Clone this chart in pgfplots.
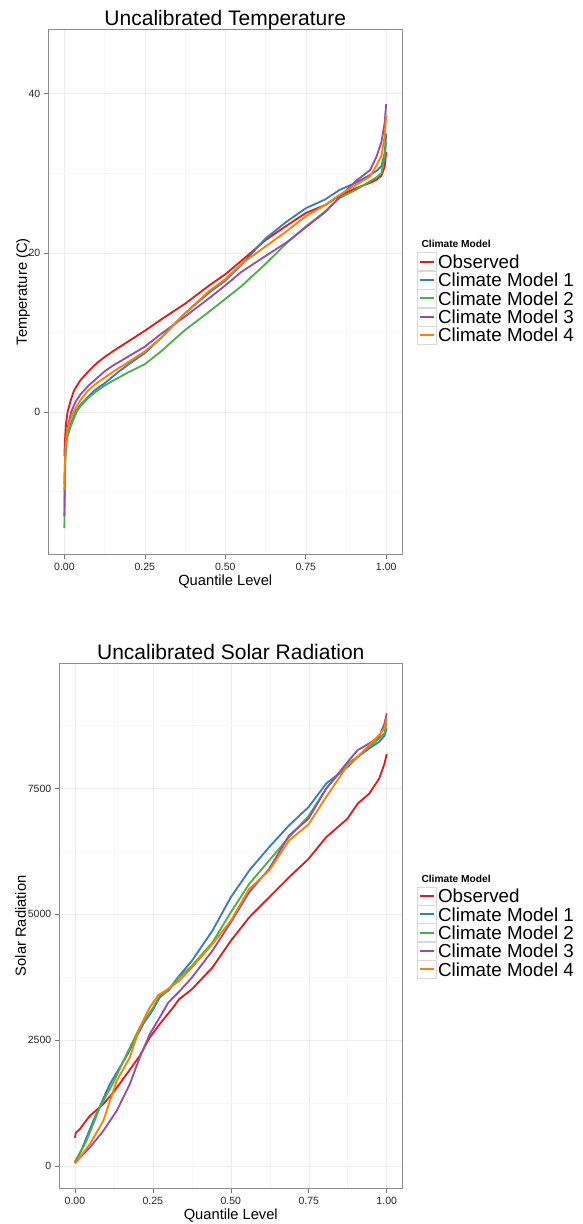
\documentclass[border=0pt]{standalone}
\usepackage{fontspec}
\setmainfont{Liberation Sans}
\usepackage{pgfplots}
\pgfplotsset{compat=1.18}
\definecolor{cRed}{HTML}{E41A1C}
\definecolor{cBlue}{HTML}{377EB8}
\definecolor{cGreen}{HTML}{4DAF4A}
\definecolor{cPurple}{HTML}{984EA3}
\definecolor{cOrange}{HTML}{FF7F00}
\pgfplotsset{
  panel/.style={
    scale only axis, height=525pt, anchor=south west, clip=false,
    xmin=-0.05, xmax=1.05,
    xtick={0,0.25,0.5,0.75,1},
    xticklabels={0.00,0.25,0.50,0.75,1.00},
    minor xtick={0.125,0.375,0.625,0.875},
    grid=both,
    major grid style={draw=gray!14, line width=0.5pt},
    minor grid style={draw=gray!6, line width=0.5pt},
    tick align=outside, tick pos=left,
    major tick length=4.5pt, minor tick length=0pt,
    tick style={draw=black!55, line width=0.6pt},
    axis line style={draw=black!45, line width=0.8pt},
    /pgf/number format/assume math mode=true,
    every tick label/.append style={font=\fontsize{10.5}{12}\selectfont, text=black!85},
    xticklabel style={anchor=base, yshift=-12pt},
    title style={at={(axis description cs:0.5,1)}, anchor=base, yshift=-2.5pt, font=\fontsize{21}{24}\selectfont},
    xlabel style={at={(axis description cs:0.5,0)}, anchor=base, yshift=-30.8pt, font=\fontsize{14.7}{16}\selectfont},
    ylabel style={anchor=base, font=\fontsize{14.7}{16}\selectfont},
    every axis plot/.append style={line width=1.85pt, line join=round, mark=none},
    legend cell align=left,
    legend image code/.code={
      \draw[draw=black!15, fill=white, line width=0.4pt] (0pt,-9pt) rectangle (18.4pt,9pt);
      \draw[##1, line width=2pt] (2.2pt,0pt) -- (16.2pt,0pt);
    },
    legend style={draw=none, fill=none, inner sep=0pt, outer sep=0pt, row sep=0pt, column sep=2pt,
      anchor=north west, font=\fontsize{18.8}{18.4}\selectfont,
      nodes={inner sep=0pt, text height=16pt, text depth=2.4pt}},
  }
}
\begin{document}
\begin{tikzpicture}
\useasboundingbox (0,0) rectangle (582pt,1224pt);
% ---------------- Temperature ----------------
\begin{axis}[panel, at={(48.3pt,669.7pt)}, width=354pt,
  ymin=-17.9, ymax=48.1,
  ytick={0,20,40}, minor ytick={-10,10,30},
  title={Uncalibrated Temperature},
  xlabel={Quantile Level}, ylabel={Temperature (C)},
  ylabel style={at={(axis description cs:-0.0602,0.5)}},
  legend style={at={(1.0424,0.5752)}}]
\addplot[cRed] coordinates {(0,-5.5) (0.002,-3.5) (0.005,-1.5) (0.01,0) (0.02,1.5) (0.03,2.7) (0.05,4.0) (0.075,5.1) (0.1,6.1) (0.125,6.9) (0.15,7.6) (0.2,8.9) (0.25,10.2) (0.3,11.6) (0.375,13.6) (0.45,15.9) (0.5,17.3) (0.55,19.0) (0.625,21.6) (0.69,23.4) (0.75,25.0) (0.81,26.0) (0.855,27.2) (0.905,28.1) (0.95,28.8) (0.97,29.2) (0.985,29.7) (0.995,30.8) (1,32.7)};
\addlegendentry{Observed}
\addplot[cBlue] coordinates {(0,-9) (0.002,-6) (0.005,-4) (0.01,-2.8) (0.02,-1.5) (0.035,0) (0.05,0.9) (0.093,2.7) (0.125,3.6) (0.167,5.0) (0.2,6.0) (0.25,7.4) (0.3,9.3) (0.375,12.4) (0.45,15.0) (0.5,16.5) (0.55,18.5) (0.625,21.8) (0.69,23.9) (0.75,25.6) (0.81,26.7) (0.855,27.9) (0.905,28.8) (0.95,29.8) (0.97,30.3) (0.985,30.9) (0.995,32.5) (1,35)};
\addlegendentry{Climate Model 1}
\addplot[cGreen] coordinates {(0,-14.6) (0.001,-10) (0.003,-6) (0.006,-4) (0.01,-3) (0.02,-1.8) (0.038,0) (0.05,0.7) (0.075,1.8) (0.1,2.6) (0.125,3.3) (0.15,3.9) (0.2,5.0) (0.25,6.0) (0.3,7.6) (0.375,10.3) (0.45,12.6) (0.5,14.2) (0.55,15.8) (0.625,18.6) (0.69,21.2) (0.75,23.3) (0.81,25.2) (0.855,26.9) (0.905,27.9) (0.95,29.0) (0.97,29.5) (0.985,30.0) (0.995,32.1) (1,34)};
\addlegendentry{Climate Model 2}
\addplot[cPurple] coordinates {(0,-13.1) (0.001,-9) (0.003,-5) (0.006,-3) (0.01,-2) (0.021,0) (0.035,1.3) (0.05,2.2) (0.075,3.3) (0.1,4.2) (0.125,5.1) (0.15,5.8) (0.2,7.0) (0.25,8.2) (0.3,9.8) (0.375,12.0) (0.45,14.3) (0.5,15.9) (0.55,17.6) (0.625,19.6) (0.69,21.3) (0.75,23.2) (0.81,25.1) (0.855,27.0) (0.905,29.0) (0.95,30.4) (0.97,32.1) (0.985,33.9) (0.995,36.3) (1,38.7)};
\addlegendentry{Climate Model 3}
\addplot[cOrange] coordinates {(0,-9.8) (0.002,-6) (0.005,-3.5) (0.01,-2.2) (0.02,-0.8) (0.028,0) (0.05,1.5) (0.074,2.7) (0.1,3.6) (0.125,4.3) (0.157,5.2) (0.2,6.3) (0.25,7.6) (0.3,9.3) (0.375,12.4) (0.45,15.2) (0.5,16.7) (0.55,18.6) (0.625,20.8) (0.69,22.7) (0.75,24.6) (0.81,26.0) (0.855,27.3) (0.905,28.5) (0.95,29.6) (0.97,31.0) (0.985,32.2) (0.995,34.6) (1,37.3)};
\addlegendentry{Climate Model 4}
\node[anchor=base west, font=\bfseries\fontsize{10.2}{12}\selectfont] at (axis description cs:1.0444,0.5853) {Climate Model};
\end{axis}
% ---------------- Solar Radiation ----------------
\begin{axis}[panel, at={(59.3pt,35.7pt)}, width=343pt,
  ymin=-445, ymax=9990,
  ytick={0,2500,5000,7500}, minor ytick={1250,3750,6250,8750},
  scaled y ticks=false,
  yticklabels={0,2500,5000,7500},
  title={Uncalibrated Solar Radiation},
  xlabel={Quantile Level}, ylabel={Solar Radiation},
  ylabel style={at={(axis description cs:-0.0977,0.5)}},
  legend style={at={(1.0437,0.5745)}}]
\addplot[cRed] coordinates {(0,560) (0.003,660) (0.016,730) (0.03,850) (0.048,995) (0.069,1107) (0.091,1227) (0.123,1459) (0.166,1823) (0.208,2188) (0.24,2553) (0.272,2818) (0.315,3149) (0.334,3311) (0.375,3510) (0.441,3942) (0.5,4474) (0.559,4940) (0.623,5339) (0.687,5738) (0.749,6100) (0.806,6535) (0.874,6900) (0.907,7201) (0.944,7400) (0.976,7699) (0.993,7998) (1.0,8185)};
\addlegendentry{Observed}
\addplot[cBlue] coordinates {(0,80) (0.02,300) (0.059,895) (0.112,1624) (0.166,2188) (0.219,2818) (0.25,3100) (0.272,3348) (0.3,3500) (0.334,3776) (0.375,4075) (0.441,4674) (0.5,5339) (0.559,5871) (0.623,6336) (0.687,6769) (0.749,7130) (0.806,7600) (0.875,7932) (0.907,8131) (0.944,8298) (0.976,8431) (0.993,8550) (1,8697)};
\addlegendentry{Climate Model 1}
\addplot[cGreen] coordinates {(0,66) (0.037,497) (0.08,1160) (0.123,1658) (0.166,2221) (0.208,2751) (0.251,3149) (0.272,3381) (0.3,3480) (0.334,3743) (0.375,3976) (0.441,4441) (0.5,5040) (0.559,5605) (0.623,6070) (0.687,6536) (0.749,6950) (0.806,7500) (0.875,7999) (0.907,8131) (0.944,8331) (0.976,8497) (0.993,8600) (1,8797)};
\addlegendentry{Climate Model 2}
\addplot[cPurple] coordinates {(0,66) (0.048,365) (0.091,696) (0.134,1094) (0.176,1624) (0.208,2155) (0.24,2619) (0.272,2950) (0.3,3250) (0.337,3481) (0.375,3743) (0.441,4275) (0.5,4840) (0.559,5439) (0.623,5904) (0.687,6569) (0.749,6900) (0.806,7500) (0.875,8032) (0.907,8265) (0.944,8398) (0.976,8531) (0.993,8797) (1,8996)};
\addlegendentry{Climate Model 3}
\addplot[cOrange] coordinates {(0,46) (0.048,431) (0.091,895) (0.134,1690) (0.176,2155) (0.208,2751) (0.24,3149) (0.267,3393) (0.29,3480) (0.334,3676) (0.375,3942) (0.441,4408) (0.5,4873) (0.559,5505) (0.623,5871) (0.687,6469) (0.749,6785) (0.806,7334) (0.875,7965) (0.907,8131) (0.944,8364) (0.976,8564) (0.993,8700) (1,8896)};
\addlegendentry{Climate Model 4}
\node[anchor=base west, font=\bfseries\fontsize{10.2}{12}\selectfont] at (axis description cs:1.0458,0.5834) {Climate Model};
\end{axis}
\end{tikzpicture}
\end{document}
